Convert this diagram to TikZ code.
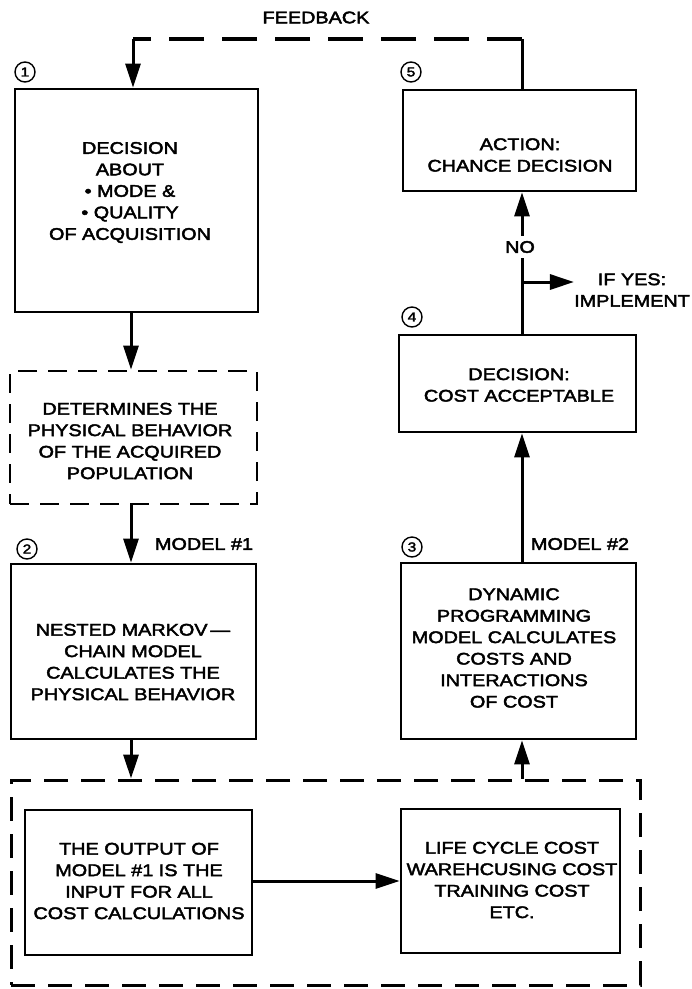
\documentclass[tikz,border=0pt]{standalone}
\usepackage{fontspec}
\setmainfont{Liberation Sans}[FakeStretch=1.18,FakeBold=2.6]
\usetikzlibrary{arrows.meta}
\begin{document}
\begin{tikzpicture}[x=1pt,y=-1pt,
  font=\fontsize{16.8}{21.5}\selectfont,
  box/.style={draw, line width=2.8pt, inner sep=0pt},
  dbox/.style={box, dash pattern=on 19pt off 11pt},
  obox/.style={box, line width=3pt, dash pattern=on 24pt off 13pt},
  txt/.style={align=center, inner sep=0pt},
  conn/.style={line width=3pt},
  arr/.style={conn, -{Triangle[length=24pt,width=15pt]}},
  fbdash/.style={line width=3.4pt, dash pattern=on 35pt off 18pt},
  num/.style={draw, circle, line width=1.4pt, minimum size=20pt, inner sep=0pt,
              font=\fontsize{13}{13}\selectfont},
]
\useasboundingbox (0,0) rectangle (692,989);

% column axes for the vertical connectors
\coordinate (lc) at (131,0);
\coordinate (rc) at (522,0);

% left column
\node[box, minimum width=243pt, minimum height=223pt] (b1) at (136.5,200.5) {};
\node[txt] (t1) at (130,192.5) {DECISION\\ABOUT\\\textbullet\ MODE \&\\\textbullet\ QUALITY\\OF ACQUISITION};

\node[dbox, minimum width=247pt, minimum height=133pt] (bd) at (133.5,437.5) {};
\node[txt] (td) at (130,441) {DETERMINES THE\\PHYSICAL BEHAVIOR\\OF THE ACQUIRED\\POPULATION};

\node[box, minimum width=245pt, minimum height=175pt] (b2) at (133.5,651.5) {};
\node[txt] (t2) at (133,662) {NESTED MARKOV\,---\\CHAIN MODEL\\CALCULATES THE\\PHYSICAL BEHAVIOR};

% right column
\node[box, minimum width=233pt, minimum height=101pt] (b5) at (519.5,140.5) {};
\node[txt] (t5) at (520,155) {ACTION:\\CHANCE DECISION};

\node[box, minimum width=237pt, minimum height=97pt] (b4) at (517.5,383.5) {};
\node[txt] (t4) at (519,385) {DECISION:\\COST ACCEPTABLE};

\node[box, minimum width=235pt, minimum height=176pt] (b3) at (518.5,651) {};
\node[txt] (t3) at (514,648) {DYNAMIC\\PROGRAMMING\\MODEL CALCULATES\\COSTS AND\\INTERACTIONS\\OF COST};

% cost calculation block
\node[obox, minimum width=629pt, minimum height=205pt] (bo) at (325.5,882.5) {};
\node[box, minimum width=227pt, minimum height=145pt] (bl) at (138.5,882.5) {};
\node[txt] (tl) at (139,881) {THE OUTPUT OF\\MODEL \#1 IS THE\\INPUT FOR ALL\\COST CALCULATIONS};
\node[box, minimum width=219pt, minimum height=144pt] (br) at (510.5,881) {};
\node[txt] (tr) at (512,880) {LIFE CYCLE COST\\WAREHCUSING COST\\TRAINING COST\\ETC.};

% step numbers
\node[num] (n1) at (25,72) {1};
\node[num] (n5) at (411,72) {5};
\node[num] (n4) at (412,317) {4};
\node[num] (n3) at (412,547) {3};
\node[num] (n2) at (27,549) {2};

% labels
\node[txt] (fbl) at (316,17.5) {FEEDBACK};
\node[txt] (m1) at (204,544) {MODEL \#1};
\node[txt] (m2) at (580,544) {MODEL \#2};
\node[txt, inner sep=5pt] (no) at (520,247) {NO};
\node[txt] (yes) at (632,290) {IF YES:\\IMPLEMENT};

% feedback loop
\coordinate (fbR) at (522,39);
\coordinate (fbL) at (133,39);
\draw[conn] (b5.north -| rc) -- (fbR);
\draw[fbdash] (fbR) -- (fbL);
\draw[arr] (fbL) -- (b1.north -| fbL);

% left column flow
\draw[arr] (b1.south -| lc) -- (bd.north -| lc);
\draw[arr] (bd.south -| lc) -- (b2.north -| lc);
\draw[arr] (b2.south -| lc) -- (bo.north -| lc);

% right column flow
\draw[arr] (bo.north -| rc) -- (b3.south -| rc);
\draw[arr] (b3.north -| rc) -- (b4.south -| rc);
\draw[conn] (b4.north -| rc) -- (no.south -| rc);
\draw[arr] (no.north -| rc) -- (b5.south -| rc);
\coordinate (yb) at (522,282);
\draw[arr] (yb) -- (yes.west |- yb);

% inside the cost block
\draw[arr] (bl.east |- br.west) -- (br.west);
\end{tikzpicture}
\end{document}
